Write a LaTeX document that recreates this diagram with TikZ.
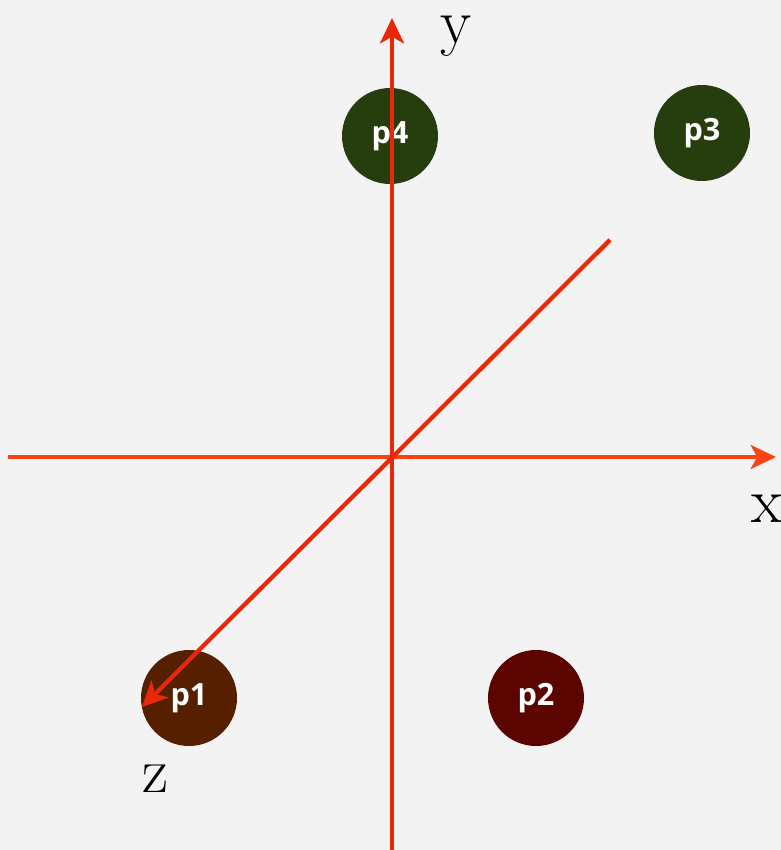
\documentclass[tikz,border=0pt]{standalone}
\usepackage{fontspec}
\newfontfamily\pointfont{Open Sans}
\usepackage{xcolor}
\usetikzlibrary{arrows.meta, positioning}

\definecolor{bgcol}{RGB}{243,243,243}
\definecolor{axisx}{RGB}{250,66,18}
\definecolor{axisy}{RGB}{232,40,8}
\definecolor{ptgreen}{RGB}{38,61,14}
\definecolor{ptbrown}{RGB}{86,31,0}
\definecolor{ptred}{RGB}{92,4,0}

\begin{document}
\begin{tikzpicture}[x=0.75pt, y=-0.75pt, every node/.style={inner sep=0pt}]
    % Styles
    \tikzstyle{point} = [circle, minimum size=72pt, text=white, font=\pointfont\bfseries\fontsize{23}{26}\selectfont]
    \tikzstyle{axis} = [line width=3.2pt, -{Stealth[length=19pt, width=18pt, inset=5pt]}]
    \tikzstyle{axislabel} = [font=\fontsize{48}{50}\selectfont, anchor=base]

    % Background
    \fill[bgcol] (0,0) rectangle (781,850);
    \useasboundingbox (0,0) rectangle (781,850);

    % Points
    \node[point, fill=ptgreen] (p4) at (390,136) {p4};
    \node[point, fill=ptgreen] (p3) at (702,133) {p3};
    \node[point, fill=ptbrown] (p1) at (189,698) {p1};
    \node[point, fill=ptred] (p2) at (536,698) {p2};

    % Axis ends
    \coordinate (xstart) at (8,457);
    \coordinate (xend) at (776,457);
    \coordinate (ystart) at (392,850);
    \coordinate (yend) at (392,18);
    \coordinate (zstart) at (610,240);
    \coordinate (zend) at (142,707);

    % Axes
    \draw[axis, axisx] (xstart) -- (xend);
    \draw[axis, axisy] (ystart) -- (yend);
    \draw[axis, axisy] (zstart) -- (zend);

    % Labels
    \node[axislabel] (xlab) at (767,522) {x};
    \node[axislabel] (ylab) at (456,43) {y};
    \node[axislabel] (zlab) at (155,792) {z};
\end{tikzpicture}
\end{document}
